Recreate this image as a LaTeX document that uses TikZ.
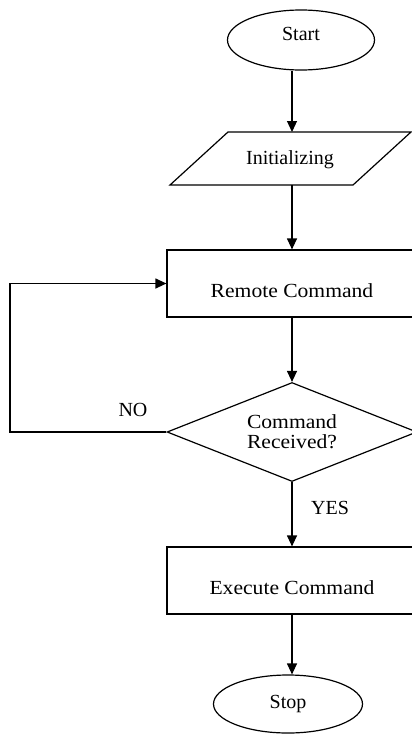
\documentclass[tikz,border=0pt]{standalone}
\usepackage{fontspec}
\setmainfont{Liberation Serif}
\newfontfamily\widefont{Liberation Serif}[FakeStretch=1.08]
\usetikzlibrary{arrows.meta,shapes.geometric}
\begin{document}
\begin{tikzpicture}[x=1pt,y=-1pt,line width=1.2pt,
  >={Triangle[length=11pt,width=10pt]},
  lbl/.style={font=\fontsize{20}{20}\selectfont},
  wlbl/.style={font=\widefont\fontsize{20}{20}\selectfont},
  term/.style={ellipse,draw,inner sep=0pt,lbl},
  proc/.style={rectangle,draw,minimum width=250,minimum height=67,inner sep=0pt,
    text height=27pt,text depth=0pt,wlbl},
  dec/.style={diamond,draw,minimum width=250,minimum height=99,aspect=2.5,inner sep=0pt,align=center,wlbl}]
\clip (0,0) rectangle (412,736);
\fill[white] (0,0) rectangle (412,736);
% nodes
\node[term,minimum width=147,minimum height=60,text height=14pt,text depth=13pt] (start) at (301,40) {Start};
\coordinate (initT) at (292,132);
\coordinate (initB) at (292,185);
\draw (228,132) -- (411,132) -- (353,185) -- (170,185) -- cycle;
\node[lbl] (init) at (290,160) {Initializing};
\node[proc] (rc) at (292,283.5) {Remote Command};
\node[dec] (dc) at (292,432) {Command\\Received?};
\node[proc] (ex) at (292,580.5) {Execute Command};
\node[term,minimum width=149,minimum height=58] (stop) at (288,704) {Stop};
\coordinate (loop) at (10,432);
\node[lbl] (no) at (133,410) {NO};
\node[lbl] (yes) at (330,508) {YES};
% connectors
\draw[->] (start.south -| initT) -- (initT);
\draw[->] (initB) -- (rc.north);
\draw[->] (rc.south) -- (dc.north);
\draw[->] (dc.west) -- (loop) |- (rc.west);
\draw[->] (dc.south) -- (ex.north);
\draw[->] (ex.south) -- (ex.south |- stop.north);
\end{tikzpicture}
\end{document}
